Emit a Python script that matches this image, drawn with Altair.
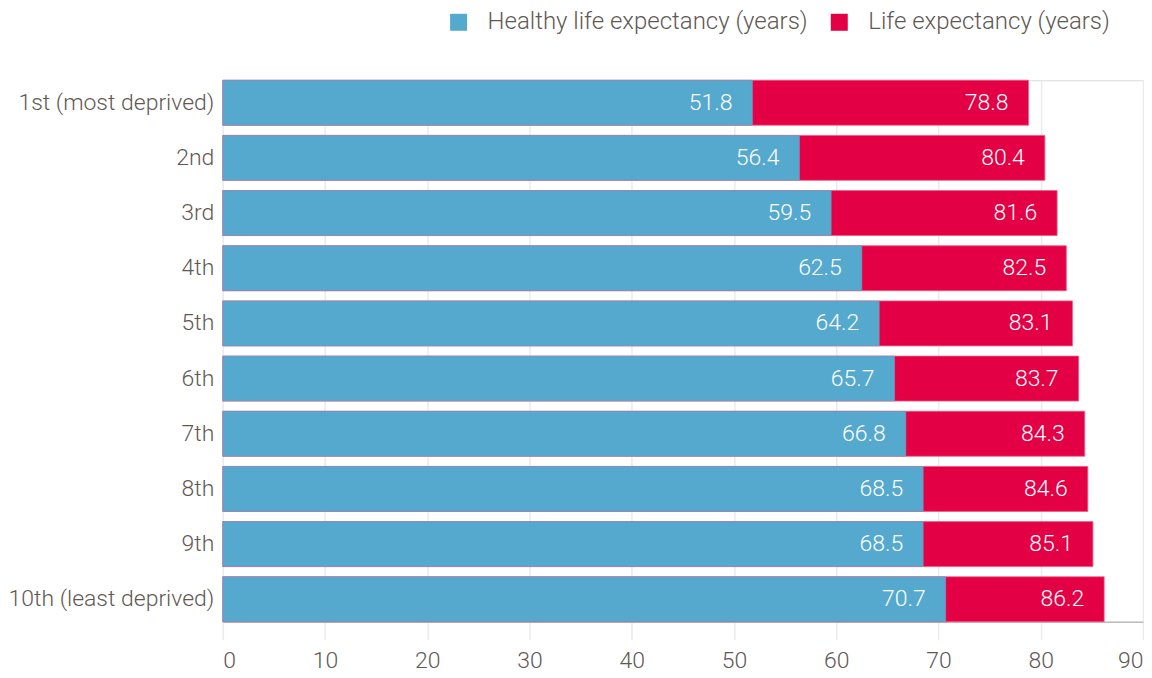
import altair as alt
import pandas as pd

deciles = ["1st (most deprived)", "2nd", "3rd", "4th", "5th", "6th", "7th", "8th", "9th", "10th (least deprived)"]
healthy = [51.8, 56.4, 59.5, 62.5, 64.2, 65.7, 66.8, 68.5, 68.5, 70.7]
life = [78.8, 80.4, 81.6, 82.5, 83.1, 83.7, 84.3, 84.6, 85.1, 86.2]
series = ["Healthy life expectancy (years)", "Life expectancy (years)"]
x_ticks = [0, 10, 20, 30, 40, 50, 60, 70, 80, 90]

BLUE = "#55A8CE"
RED = "#E30045"
GRAY = "#5F5954"
FONT = "Roboto"
FS = 23

df_h = pd.DataFrame({"decile": deciles, "value": healthy, "series": series[0]})
df_l = pd.DataFrame({"decile": deciles, "value": life, "series": series[1]})

y_enc = alt.Y("decile:N", sort=deciles, title=None,
              scale=alt.Scale(paddingInner=0.185, paddingOuter=0),
              axis=alt.Axis(domain=False, ticks=False, labelFontSize=FS, labelFont=FONT,
                            labelFontWeight=300, labelColor=GRAY, labelPadding=9,
                            labelLimit=400, grid=False))
x_enc = alt.X("value:Q", title=None,
              scale=alt.Scale(domain=[0, 90], nice=False),
              axis=alt.Axis(values=x_ticks, grid=True, gridColor="#EBEBEB", gridWidth=1.5,
                            domain=True, domainColor="#BDBDBD", domainWidth=1.5,
                            ticks=True, tickSize=18, tickColor="#EBEBEB", tickWidth=1.5,
                            labelFontSize=FS, labelFont=FONT, labelFontWeight=300,
                            labelColor=GRAY, labelPadding=10))
color_enc = alt.Color("series:N", title=None,
                      scale=alt.Scale(domain=series, range=[BLUE, RED]),
                      legend=alt.Legend(orient="none", legendX=224, legendY=-70,
                                        direction="horizontal", symbolType="square",
                                        symbolSize=289, symbolStrokeWidth=0,
                                        labelFontSize=24, labelFont=FONT, labelFontWeight=300,
                                        labelColor=GRAY, labelOffset=17, columnPadding=19,
                                        labelLimit=500))

red_bars = alt.Chart(df_l).mark_bar(stroke="#F05A80", strokeWidth=0.8).encode(
    x=x_enc, y=y_enc, color=color_enc)
blue_bars = alt.Chart(df_h).mark_bar(stroke="#8C8FB8", strokeWidth=0.6).encode(
    x=alt.X("value:Q"), y=alt.Y("decile:N", sort=deciles), color=color_enc)

text_l = alt.Chart(df_l).mark_text(align="right", baseline="middle", dx=-20, color="white",
                                   fontSize=FS, font=FONT, fontWeight=300).encode(
    x="value:Q", y=alt.Y("decile:N", sort=deciles), text=alt.Text("value:Q", format=".1f"))
text_h = alt.Chart(df_h).mark_text(align="right", baseline="middle", dx=-20, color="white",
                                   fontSize=FS, font=FONT, fontWeight=300).encode(
    x="value:Q", y=alt.Y("decile:N", sort=deciles), text=alt.Text("value:Q", format=".1f"))

chart = alt.layer(red_bars, blue_bars, text_l, text_h).properties(
    width=921, height=542,
    padding={"left": 0, "top": 2, "right": 0, "bottom": 0}
).configure_view(stroke=None).configure(background="white")

chart.save("out.html", embed_options={"renderer": "svg", "actions": False})
